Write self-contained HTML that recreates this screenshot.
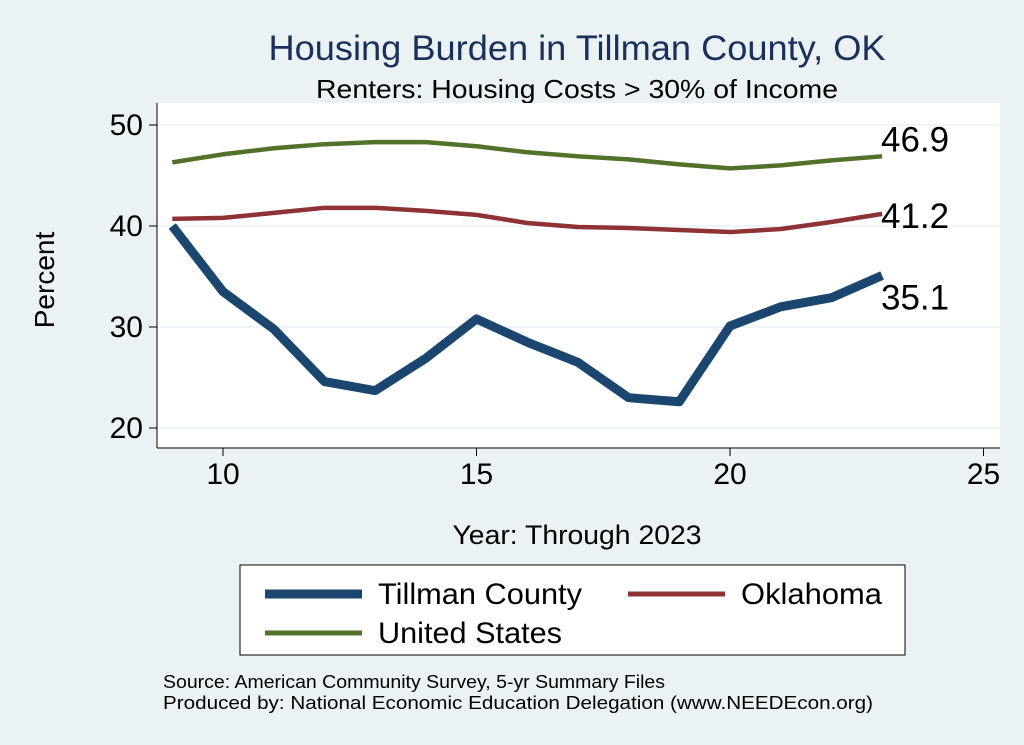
<!DOCTYPE html>
<html><head><meta charset="utf-8"><style>
body{margin:0;background:#eaf2f3;}
svg{display:block;font-family:"Liberation Sans",Arial,sans-serif;}
</style></head><body>
<svg id="chart" width="1024" height="745">
<rect x="0" y="0" width="1024" height="745" fill="#eaf2f3"/>
<text x="577" y="60" text-anchor="middle" font-size="35" fill="#1a2f5a" textLength="617" lengthAdjust="spacingAndGlyphs">Housing Burden in Tillman County, OK</text>
<text x="577" y="98" text-anchor="middle" font-size="26" fill="#000" textLength="522" lengthAdjust="spacingAndGlyphs">Renters: Housing Costs &gt; 30% of Income</text>
<rect x="157" y="103" width="843" height="345" fill="#fff"/>
<g id="grid"></g>
<g id="axes"></g>
<g id="series"></g>
<text transform="translate(54,280) rotate(-90)" text-anchor="middle" font-size="28">Percent</text>
<text x="577" y="544" text-anchor="middle" font-size="27" textLength="249" lengthAdjust="spacingAndGlyphs">Year: Through 2023</text>
<g>
<rect x="240" y="565" width="665" height="90" fill="#fff" stroke="#000" stroke-width="1"/>
<line x1="265" y1="594" x2="362" y2="594" stroke="#1a4670" stroke-width="9"/>
<text x="378" y="604" font-size="30" textLength="204" lengthAdjust="spacingAndGlyphs">Tillman County</text>
<line x1="628" y1="594" x2="725" y2="594" stroke="#8f3236" stroke-width="5"/>
<text x="741" y="604" font-size="30" textLength="141" lengthAdjust="spacingAndGlyphs">Oklahoma</text>
<line x1="265" y1="633" x2="362" y2="633" stroke="#52722a" stroke-width="5"/>
<text x="378" y="643" font-size="30" textLength="184" lengthAdjust="spacingAndGlyphs">United States</text>
</g>
<text x="163" y="688" font-size="18.5" textLength="502" lengthAdjust="spacingAndGlyphs">Source: American Community Survey, 5-yr Summary Files</text>
<text x="163" y="709" font-size="18.5" textLength="710" lengthAdjust="spacingAndGlyphs">Produced by: National Economic Education Delegation (www.NEEDEcon.org)</text>
</svg>
<script>
const years=[9,10,11,12,13,14,15,16,17,18,19,20,21,22,23];
const tillman=[40.0,33.5,29.8,24.6,23.7,26.9,30.8,28.5,26.5,23.0,22.6,30.1,32.0,32.9,35.1];
const oklahoma=[40.7,40.8,41.3,41.8,41.8,41.5,41.1,40.3,39.9,39.8,39.6,39.4,39.7,40.4,41.2];
const unitedStates=[46.3,47.1,47.7,48.1,48.3,48.3,47.9,47.3,46.9,46.6,46.1,45.7,46.0,46.5,46.9];
const xTicks=[10,15,20,25];
const yTicks=[20,30,40,50];
const NS="http://www.w3.org/2000/svg";
function xs(v){return 223+(v-10)*50.7;}
function ys(v){return 428-(v-20)*10.1;}
function mk(t,a,p){const e=document.createElementNS(NS,t);for(const k in a)e.setAttribute(k,a[k]);p.appendChild(e);return e;}
const grid=document.getElementById('grid'),axes=document.getElementById('axes'),ser=document.getElementById('series');
mk('line',{x1:157,y1:448,x2:1000,y2:448,stroke:'#000','stroke-width':1},axes);
mk('line',{x1:157,y1:103,x2:157,y2:448,stroke:'#000','stroke-width':1},axes);
yTicks.forEach(t=>{
 const g=mk('line',{x1:157,y1:ys(t),x2:1000,y2:ys(t),stroke:'#eaf2f3','stroke-width':1.5},grid);
 
 
 mk('line',{x1:149,y1:ys(t),x2:157,y2:ys(t),stroke:'#000'},axes);
 const tx=mk('text',{x:143,y:ys(t)+10,'text-anchor':'end','font-size':30},axes);
 tx.textContent=t;
 
 
});
xTicks.forEach(t=>{
 mk('line',{x1:xs(t),y1:448,x2:xs(t),y2:456,stroke:'#000'},axes);
 const tx=mk('text',{x:xs(t),y:484,'text-anchor':'middle','font-size':30},axes);
 tx.textContent=t;
 
 
});
function line(data,color,w,name){
 const p=mk('polyline',{points:data.map((v,i)=>xs(years[i])+','+ys(v)).join(' '),fill:'none',stroke:color,'stroke-width':w,'stroke-linejoin':'round'},ser);
 
 
}
line(unitedStates,'#52722a',4.5,'line-united-states');
line(oklahoma,'#8f3236',4.5,'line-oklahoma');
line(tillman,'#1a4670',9,'line-tillman-county');
function lab(v,dy,name){
 const t=mk('text',{x:881,y:ys(v)+dy,'font-size':35},ser);
 t.textContent=v.toFixed(1);
 
 
}
const n=years.length-1;
lab(unitedStates[n],-5,'label-us-last');
lab(oklahoma[n],14,'label-oklahoma-last');
lab(tillman[n],34,'label-tillman-last');
</script>
</body></html>
